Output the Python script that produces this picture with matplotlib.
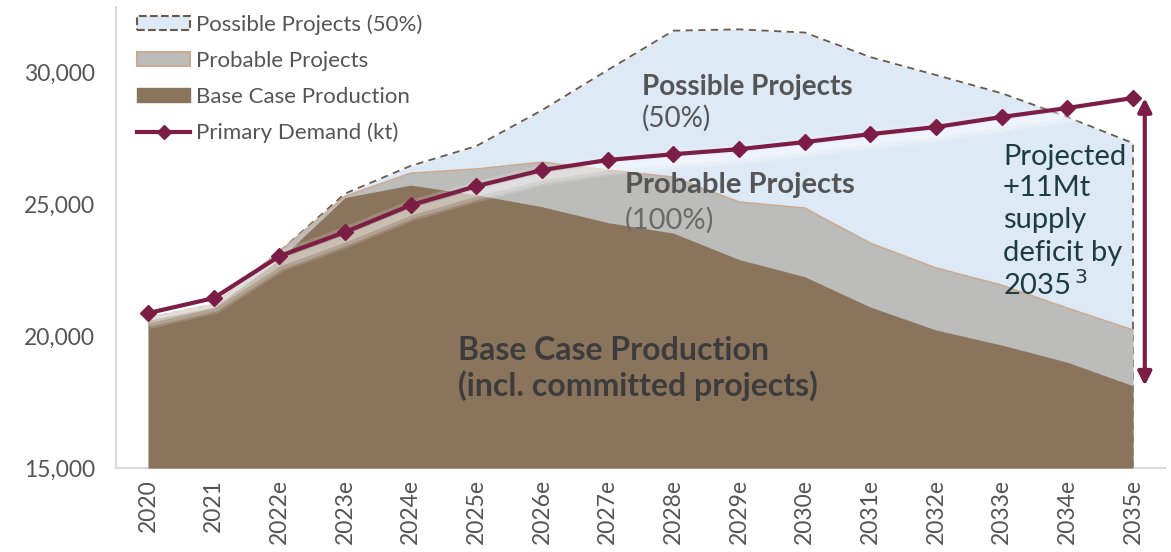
import numpy as np
import matplotlib.pyplot as plt
import matplotlib.transforms as mtransforms
from matplotlib.patches import Patch
from matplotlib.lines import Line2D

plt.rcParams['font.family'] = ['Lato', 'DejaVu Sans']

years = ["2020", "2021", "2022e", "2023e", "2024e", "2025e", "2026e", "2027e",
         "2028e", "2029e", "2030e", "2031e", "2032e", "2033e", "2034e", "2035e"]

# supply scenarios (kt)
base_case = [20600, 21100, 22900, 25250, 25720, 25350, 24900, 24300,
             23900, 22900, 22250, 21100, 20230, 19660, 19010, 18120]
probable = [20700, 21200, 23200, 25300, 26170, 26330, 26590, 26290,
            26020, 25080, 24850, 23520, 22580, 21930, 21060, 20230]
possible = [20700, 21200, 23200, 25400, 26450, 27200, 28560, 30080,
            31570, 31620, 31500, 30570, 29890, 29200, 28300, 27310]
demand = [20870, 21440, 23030, 23940, 24960, 25680, 26290, 26670,
          26890, 27080, 27350, 27650, 27920, 28300, 28640, 29020]

brown = "#8b745c"
grey = "#bcbcba"
blue = "#dde9f5"
maroon = "#7b1d45"
txt = "#555555"

fig = plt.figure(figsize=(11.71, 5.52), dpi=100)
ax = fig.add_axes([0.099, 0.152, 0.896, 0.835])

x = np.arange(len(years))
floor = 15000

ax.fill_between(x, floor, possible, color=blue, lw=0, zorder=1)
ax.plot(np.r_[x, x[-1]], np.r_[possible, floor], color="#6b5a4b", lw=1.3,
        ls=(0, (4, 3)), zorder=1.5)
ax.fill_between(x, floor, probable, color=grey, lw=0, zorder=2)
ax.plot(x, probable, color="#c9ab94", lw=1.2, zorder=2.5)
ax.fill_between(x, floor, base_case, color=brown, lw=0, zorder=3)

# soft light glow under the demand line
for dy, w, a in [(-4, 15, 0.15), (-5, 10, 0.22), (-5, 5, 0.3)]:
    tr = mtransforms.offset_copy(ax.transData, fig=fig, x=0, y=dy, units="points")
    ax.plot(x, demand, color="white", lw=w, alpha=a, transform=tr,
            solid_capstyle="butt", zorder=4)

ax.plot(x, demand, color=maroon, lw=3, marker="D", ms=8, zorder=5)

ax.set_xlim(-0.49, 15.49)
ax.set_ylim(floor, 32460)
ax.set_yticks([15000, 20000, 25000, 30000])
ax.yaxis.set_major_formatter(plt.FuncFormatter(lambda v, p: f"{v:,.0f}"))
ax.set_xticks(x)
ax.set_xticklabels(years, rotation=90)
ax.tick_params(length=0, labelsize=16.5, colors=txt)
ax.tick_params(axis="x", pad=8)
ax.tick_params(axis="y", pad=15)
for s in ["top", "right"]:
    ax.spines[s].set_visible(False)
for s in ["left", "bottom"]:
    ax.spines[s].set_color("#d9d9d9")
    ax.spines[s].set_linewidth(1.5)

# region labels
ax.text(7.52, 29430, "Possible Projects", fontsize=20, fontweight="bold",
        color=txt, va="center", zorder=6)
ax.text(7.52, 28260, "(50%)", fontsize=20, color=txt, va="center", zorder=6)
ax.text(7.26, 25720, "Probable Projects", fontsize=21, fontweight="bold",
        color=txt, va="center", zorder=6)
ax.text(7.26, 24390, "(100%)", fontsize=21, color="#6a6a6a", va="center", zorder=6)
ax.text(4.72, 19470, "Base Case Production", fontsize=23, fontweight="bold",
        color="#3c3c3c", va="center", zorder=6)
ax.text(4.72, 18140, "(incl. committed projects)", fontsize=23, fontweight="bold",
        color="#3c3c3c", va="center", zorder=6)

deficit_lines = ["Projected", "+11Mt", "supply", "deficit by", "2035$^{\\,3}$"]
deficit_y = [26780, 25610, 24390, 23140, 21930]
for line, yy in zip(deficit_lines, deficit_y):
    ax.text(13.02, yy, line, fontsize=21, color="#1d3b40", va="center", zorder=6)

# gap between 2035 demand and base case supply
ax.annotate("", xy=(15.18, base_case[-1]), xytext=(15.18, demand[-1]),
            arrowprops=dict(arrowstyle="<|-|>", color=maroon, lw=3,
                            mutation_scale=20, shrinkA=0, shrinkB=0),
            zorder=6, annotation_clip=False)

handles = [
    Patch(facecolor=blue, edgecolor="#6b5a4b", ls="--", lw=1.5),
    Patch(facecolor=grey, edgecolor="#c9ab94", lw=1.5),
    Patch(facecolor=brown, edgecolor=brown),
    Line2D([], [], color=maroon, lw=3, marker="D", ms=7),
]
labels = ["Possible Projects (50%)", "Probable Projects",
          "Base Case Production", "Primary Demand (kt)"]
ax.legend(handles, labels, loc="upper left", bbox_to_anchor=(0.02, 0.985),
          frameon=False, fontsize=16, labelcolor=txt, handlelength=2.4,
          handleheight=0.6, handletextpad=0.25, labelspacing=0.72,
          borderaxespad=0, borderpad=0)

fig.savefig("out.png", dpi=100)
